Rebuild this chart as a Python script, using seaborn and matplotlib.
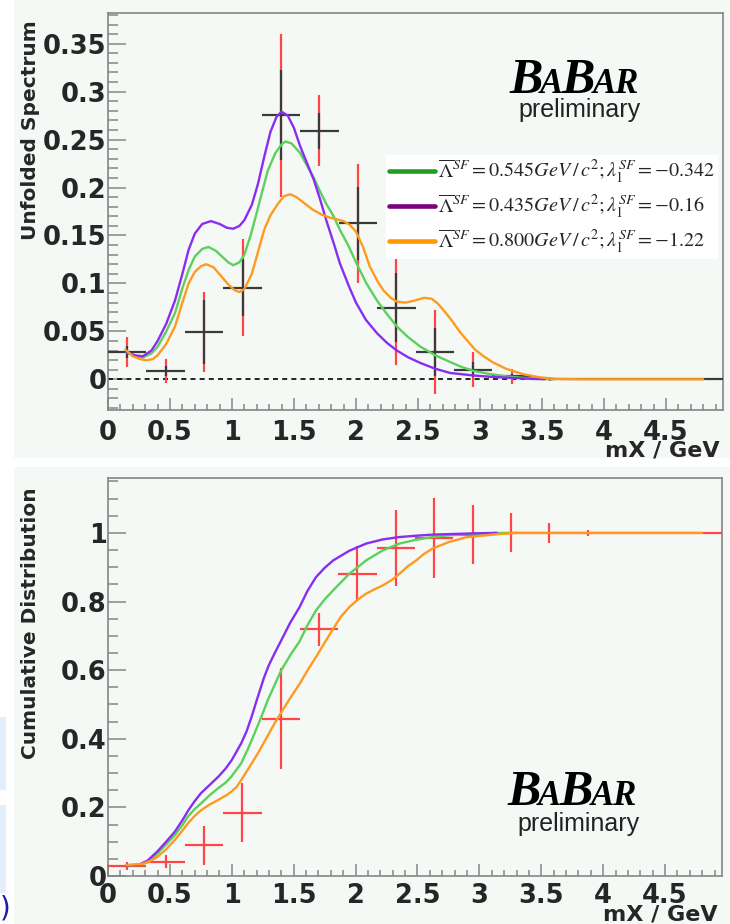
import numpy as np
import pandas as pd
import matplotlib
matplotlib.use("Agg")
import matplotlib.pyplot as plt
import seaborn as sns
from matplotlib.ticker import MultipleLocator, FuncFormatter
from matplotlib.lines import Line2D
from matplotlib.patches import Rectangle

# ---------------- data ----------------
bin_edges = [0.0, 0.31, 0.62, 0.93, 1.24, 1.55, 1.86, 2.17, 2.48, 2.79,
             3.10, 3.41, 3.72, 4.03, 4.34, 4.65, 4.96]

spectrum = [0.0285, 0.0087, 0.0494, 0.0957, 0.2756, 0.2590, 0.1625, 0.0748,
            0.0285, 0.0101, 0.0030, 0.0005, 0.0, 0.0, 0.0, 0.0]
spectrum_stat_err = [0.006, 0.005, 0.033, 0.0295, 0.047, 0.019, 0.038, 0.0357,
                     0.025, 0.008, 0.003, 0.001, 0.0, 0.0, 0.0, 0.0]
spectrum_tot_err = [0.016, 0.013, 0.042, 0.051, 0.085, 0.037, 0.0625, 0.060,
                    0.044, 0.018, 0.008, 0.002, 0.0, 0.0, 0.0, 0.0]

cumulative = [0.030, 0.042, 0.090, 0.185, 0.459, 0.719, 0.881, 0.956,
              0.986, 0.995, 1.0, 1.0, 1.0, 1.0, 1.0, 1.0]
cumulative_err = [0.012, 0.018, 0.057, 0.086, 0.146, 0.048, 0.080, 0.112,
                  0.117, 0.086, 0.057, 0.028, 0.009, 0.003, 0.001, 0.0]

model_names = ["m0545", "m0435", "m0800"]
legend_labels = [
    r"$\overline{\Lambda}^{SF}=0.545GeV\,/\,c^{2};\lambda_{1}^{SF}=-0.342$",
    r"$\overline{\Lambda}^{SF}=0.435GeV\,/\,c^{2};\lambda_{1}^{SF}=-0.16$",
    r"$\overline{\Lambda}^{SF}=0.800GeV\,/\,c^{2};\lambda_{1}^{SF}=-1.22$",
]

# spectrum curves (top panel)
green_top_x = [0.15, 0.22, 0.28, 0.35, 0.40, 0.47, 0.54, 0.60, 0.65, 0.70, 0.76, 0.81,
               0.87, 0.92, 0.97, 1.01, 1.06, 1.10, 1.15, 1.19, 1.24, 1.29, 1.35, 1.40,
               1.43, 1.48, 1.55, 1.60, 1.66, 1.71, 1.76, 1.82, 1.87, 1.94, 2.00, 2.08,
               2.17, 2.25, 2.33, 2.42, 2.52, 2.64, 2.76, 2.85, 2.95, 3.08, 3.21, 3.35,
               3.48, 3.60]
green_top_y = [0.028, 0.024, 0.0226, 0.027, 0.034, 0.050, 0.069, 0.095, 0.114, 0.128,
               0.136, 0.138, 0.134, 0.128, 0.122, 0.119, 0.122, 0.130, 0.150, 0.169,
               0.194, 0.218, 0.236, 0.245, 0.248, 0.246, 0.236, 0.224, 0.210, 0.196,
               0.183, 0.170, 0.156, 0.139, 0.122, 0.101, 0.082, 0.068, 0.055, 0.044,
               0.034, 0.025, 0.018, 0.013, 0.0087, 0.0055, 0.0031, 0.0015, 0.0005, 0.0001]

purple_top_x = [0.15, 0.22, 0.28, 0.35, 0.40, 0.47, 0.54, 0.60, 0.65, 0.70, 0.76, 0.83,
                0.90, 0.96, 1.01, 1.06, 1.10, 1.16, 1.21, 1.26, 1.31, 1.36, 1.40, 1.45,
                1.50, 1.55, 1.60, 1.66, 1.71, 1.76, 1.82, 1.87, 1.94, 2.00, 2.08, 2.17,
                2.25, 2.33, 2.42, 2.52, 2.64, 2.76, 2.95, 3.10, 3.25, 3.40, 3.52]
purple_top_y = [0.028, 0.025, 0.024, 0.030, 0.040, 0.058, 0.082, 0.110, 0.135, 0.152,
                0.162, 0.165, 0.162, 0.158, 0.157, 0.160, 0.166, 0.182, 0.204, 0.232,
                0.258, 0.274, 0.279, 0.275, 0.262, 0.243, 0.227, 0.208, 0.188, 0.166,
                0.142, 0.121, 0.098, 0.080, 0.062, 0.048, 0.038, 0.030, 0.023, 0.017,
                0.011, 0.0066, 0.0040, 0.0025, 0.0015, 0.0006, 0.0002]

orange_top_x = [0.14, 0.20, 0.26, 0.31, 0.36, 0.40, 0.47, 0.54, 0.60, 0.65, 0.70, 0.75,
                0.79, 0.85, 0.91, 0.97, 1.02, 1.06, 1.10, 1.16, 1.21, 1.26, 1.31, 1.37,
                1.42, 1.47, 1.52, 1.58, 1.65, 1.72, 1.78, 1.84, 1.90, 1.95, 2.00, 2.06,
                2.11, 2.17, 2.22, 2.28, 2.33, 2.40, 2.47, 2.55, 2.61, 2.66, 2.72, 2.78,
                2.84, 2.90, 2.96, 3.03, 3.10, 3.21, 3.35, 3.48, 3.62, 3.80, 4.80]
orange_top_y = [0.031, 0.024, 0.021, 0.0198, 0.021, 0.025, 0.037, 0.055, 0.080, 0.100,
                0.112, 0.118, 0.120, 0.117, 0.108, 0.099, 0.093, 0.091, 0.094, 0.110,
                0.133, 0.156, 0.171, 0.183, 0.191, 0.193, 0.190, 0.184, 0.177, 0.172,
                0.169, 0.167, 0.165, 0.161, 0.154, 0.137, 0.118, 0.103, 0.093, 0.085,
                0.081, 0.080, 0.082, 0.085, 0.084, 0.079, 0.070, 0.060, 0.049, 0.040,
                0.031, 0.024, 0.018, 0.011, 0.0053, 0.0021, 0.0004, 0.0, 0.0]

# cumulative curves (bottom panel)
green_cum_x = [0.15, 0.25, 0.32, 0.40, 0.47, 0.54, 0.60, 0.645, 0.70, 0.753, 0.82, 0.887,
               0.95, 0.995, 1.075, 1.13, 1.183, 1.24, 1.29, 1.35, 1.40, 1.48, 1.548, 1.61,
               1.68, 1.75, 1.82, 1.95, 2.086, 2.22, 2.355, 2.49, 2.62, 2.75, 2.89, 3.10, 3.30]
green_cum_y = [0.031, 0.032, 0.040, 0.066, 0.092, 0.119, 0.148, 0.173, 0.195, 0.212,
               0.235, 0.255, 0.272, 0.289, 0.328, 0.370, 0.415, 0.465, 0.512, 0.560,
               0.600, 0.648, 0.684, 0.730, 0.774, 0.806, 0.833, 0.881, 0.920, 0.949,
               0.969, 0.980, 0.988, 0.993, 0.996, 0.999, 1.000]

purple_cum_x = [0.15, 0.25, 0.32, 0.40, 0.47, 0.54, 0.60, 0.65, 0.70, 0.75, 0.82, 0.89,
                0.95, 1.00, 1.075, 1.12, 1.16, 1.21, 1.26, 1.30, 1.35, 1.40, 1.47, 1.548,
                1.61, 1.68, 1.75, 1.82, 1.95, 2.086, 2.22, 2.355, 2.50, 2.62, 2.80, 3.00, 3.14]
purple_cum_y = [0.031, 0.033, 0.045, 0.072, 0.100, 0.129, 0.162, 0.192, 0.218, 0.241,
                0.265, 0.289, 0.313, 0.338, 0.386, 0.422, 0.464, 0.522, 0.578, 0.615,
                0.652, 0.687, 0.737, 0.784, 0.830, 0.871, 0.898, 0.920, 0.948, 0.969,
                0.981, 0.988, 0.992, 0.995, 0.997, 0.999, 1.000]

orange_cum_x = [0.15, 0.27, 0.33, 0.40, 0.47, 0.54, 0.60, 0.645, 0.70, 0.753, 0.82, 0.887,
                0.95, 0.995, 1.04, 1.075, 1.14, 1.21, 1.28, 1.344, 1.41, 1.478, 1.548,
                1.613, 1.68, 1.75, 1.82, 1.88, 1.95, 2.02, 2.086, 2.15, 2.22, 2.29, 2.355,
                2.42, 2.49, 2.55, 2.62, 2.75, 2.89, 3.10, 3.30, 4.80]
orange_cum_y = [0.032, 0.035, 0.042, 0.056, 0.078, 0.105, 0.132, 0.153, 0.175, 0.192,
                0.208, 0.221, 0.234, 0.245, 0.260, 0.279, 0.316, 0.357, 0.402, 0.444,
                0.483, 0.522, 0.560, 0.600, 0.638, 0.680, 0.721, 0.755, 0.784, 0.806,
                0.823, 0.835, 0.847, 0.862, 0.881, 0.902, 0.920, 0.938, 0.954, 0.973,
                0.987, 0.995, 1.000, 1.000]

x_ticks = [0, 0.5, 1, 1.5, 2, 2.5, 3, 3.5, 4, 4.5]

# ---------------- style ----------------
sns.set_style("ticks")
plt.rcParams["font.family"] = ["DejaVu Sans"]
plt.rcParams["mathtext.fontset"] = "stix"

curve_colors = {"m0545": "#5cd05c", "m0435": "#8a2cf2", "m0800": "#ff9a1e"}
legend_colors = ["#1f9e1f", "#7d007d", "#ff9900"]
BG = "#f5f9f5"
SPINE = "#858585"
RED = "#ff4545"
BLACK = "#3a3a3a"

W, H = 730, 924
fig = plt.figure(figsize=(W / 100, H / 100), dpi=100)
fig.patch.set_facecolor("white")


def fx(px):
    return px / W


def fy(py):
    return 1 - py / H


def rect(x0, y0, x1, y1, color):
    fig.add_artist(Rectangle((fx(x0), fy(y1)), fx(x1) - fx(x0), fy(y0) - fy(y1),
                             transform=fig.transFigure, facecolor=color,
                             edgecolor="none", zorder=-5))


rect(14, 0, 730, 458, BG)
rect(14, 467, 730, 924, BG)
rect(0, 717, 6, 790, "#e3edfb")
rect(0, 805, 6, 893, "#e3edfb")
fig.text(fx(5), fy(909), ")", ha="center", va="center", fontsize=20,
         color="#1c1ca0")

ax1 = fig.add_axes([fx(108), fy(410), fx(723) - fx(108), fy(13) - fy(410)])
ax2 = fig.add_axes([fx(108), fy(876), fx(722) - fx(108), fy(478) - fy(876)])

edges = np.array(bin_edges)
centers = (edges[:-1] + edges[1:]) / 2
halfw = (edges[1:] - edges[:-1]) / 2


def long_df(xs, ys):
    frames = []
    for name, x, y in zip(model_names, xs, ys):
        frames.append(pd.DataFrame({"x": x, "y": y, "model": name}))
    return pd.concat(frames, ignore_index=True)


top_df = long_df([green_top_x, purple_top_x, orange_top_x],
                 [green_top_y, purple_top_y, orange_top_y])
cum_df = long_df([green_cum_x, purple_cum_x, orange_cum_x],
                 [green_cum_y, purple_cum_y, orange_cum_y])

# ---- top panel ----
ax1.axhline(0, color="black", lw=1.2, ls=(0, (3, 2.5)), zorder=2)
ax1.errorbar(centers, spectrum, yerr=spectrum_tot_err, fmt="none", ecolor=RED,
             elinewidth=1.6, capsize=0, zorder=3)
ax1.errorbar(centers, spectrum, xerr=halfw, yerr=spectrum_stat_err, fmt="none",
             ecolor=BLACK, elinewidth=1.6, capsize=0, zorder=4)
sns.lineplot(data=top_df, x="x", y="y", hue="model", palette=curve_colors,
             estimator=None, sort=False, legend=False, lw=1.7, ax=ax1, zorder=5)

ax1.set_xlim(0, 4.96)
ax1.set_ylim(-0.032, 0.382)

# ---- bottom panel ----
ax2.errorbar(centers, cumulative, xerr=halfw, yerr=cumulative_err, fmt="none",
             ecolor=RED, elinewidth=1.6, capsize=0, zorder=3)
sns.lineplot(data=cum_df, x="x", y="y", hue="model", palette=curve_colors,
             estimator=None, sort=False, legend=False, lw=1.7, ax=ax2, zorder=5)
ax2.set_xlim(0, 4.96)
ax2.set_ylim(0, 1.16)

for ax in (ax1, ax2):
    for ln in ax.get_lines():
        ln.set_solid_joinstyle("round")
        ln.set_solid_capstyle("round")


def fmt(v, pos):
    r = round(v, 3)
    if abs(r) < 1e-9:
        return "0"
    return f"{r:g}"


for ax, ymaj, ymin, xpad in [(ax1, 0.05, 0.01, 7), (ax2, 0.2, 0.05, 5)]:
    ax.set_facecolor(BG)
    ax.set_xlabel("")
    ax.set_ylabel("")
    ax.set_xticks(x_ticks)
    ax.xaxis.set_minor_locator(MultipleLocator(0.1))
    ax.yaxis.set_major_locator(MultipleLocator(ymaj))
    ax.yaxis.set_minor_locator(MultipleLocator(ymin))
    ax.xaxis.set_major_formatter(FuncFormatter(fmt))
    ax.yaxis.set_major_formatter(FuncFormatter(fmt))
    for s in ax.spines.values():
        s.set_color(SPINE)
        s.set_linewidth(1.2)
        s.set_visible(True)
    ax.tick_params(axis="x", which="major", direction="in", length=8.5, width=1.1,
                   color=SPINE, labelsize=18.5, pad=xpad, top=False)
    ax.tick_params(axis="x", which="minor", direction="in", length=4.3, width=1.1,
                   color=SPINE, top=False)
    ax.tick_params(axis="y", which="major", direction="in", length=13, width=1.1,
                   color=SPINE, labelsize=18.5, pad=1, right=False)
    ax.tick_params(axis="y", which="minor", direction="in", length=7, width=1.1,
                   color=SPINE, right=False)
    for lab in ax.get_xticklabels() + ax.get_yticklabels():
        lab.set_fontweight("bold")

# legend
handles = [Line2D([], [], color=c, lw=3.3) for c in legend_colors]
leg = ax1.legend(handles, legend_labels, loc="upper left",
                 bbox_to_anchor=((386 - 108) / 615, (410 - 155) / 397),
                 frameon=True, facecolor="white", edgecolor="none", framealpha=1,
                 fancybox=False, fontsize=14.5, handlelength=2.3, handletextpad=0.15,
                 labelspacing=0.38, borderpad=0.15, borderaxespad=0)
leg.set_zorder(10)


# BaBar logos
def babar(ax, xa, ya, yp):
    serif = dict(family="Liberation Serif", weight="bold", style="italic",
                 color="black")
    t = ax.text(xa, ya, "B", transform=ax.transAxes, fontsize=36, va="baseline",
                ha="left", **serif)
    prev = t
    for s, size in [("A", 25), ("B", 36), ("AR", 25)]:
        prev = ax.annotate(s, xy=(1, ya), xycoords=(prev, ax.transAxes),
                           xytext=(-1.5, 0), textcoords="offset points",
                           fontsize=size, va="baseline", ha="left", **serif)
    ax.text(0.767, yp, "preliminary", transform=ax.transAxes, fontsize=18,
            family="Liberation Sans", va="baseline", ha="center", color="#222222")


babar(ax1, (509 - 108) / 615, (410 - 93) / 397, (410 - 117) / 397)
babar(ax2, (507 - 108) / 614, (876 - 805) / 398, (876 - 831) / 398)

# axis titles
fig.text(fx(31), fy(20), "Unfolded Spectrum", rotation=90, ha="center", va="top",
         fontsize=14.5, fontweight="bold")
fig.text(fx(31), fy(487), "Cumulative Distribution", rotation=90, ha="center",
         va="top", fontsize=14.5, fontweight="bold")
fig.text(fx(720), fy(440), "mX / GeV", ha="right", va="top", fontsize=16,
         fontweight="bold")
fig.text(fx(718), fy(905), "mX / GeV", ha="right", va="top", fontsize=16,
         fontweight="bold")

fig.savefig("out.png", dpi=100, facecolor=fig.get_facecolor())
